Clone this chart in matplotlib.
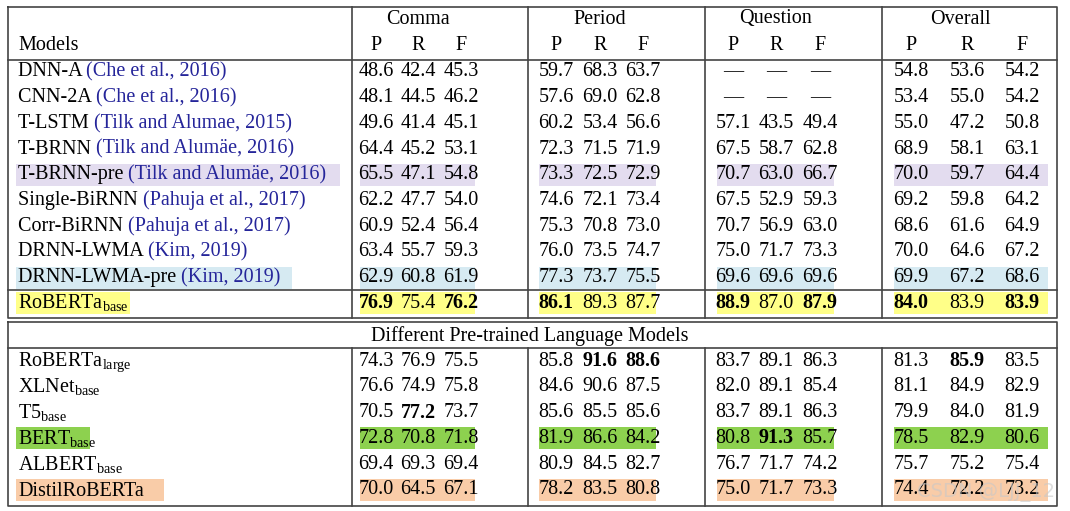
import matplotlib.pyplot as plt
from matplotlib.transforms import offset_copy

plt.rcParams['font.family'] = ['Liberation Serif', 'DejaVu Serif']
plt.rcParams['mathtext.fontset'] = 'custom'
plt.rcParams['mathtext.rm'] = 'Liberation Serif'
FS = 14.5

groups = ["Comma", "Period", "Question", "Overall"]
models_top = [("DNN-A ", "(Che et al., 2016)"), ("CNN-2A ", "(Che et al., 2016)"),
              ("T-LSTM ", "(Tilk and Alumae, 2015)"), ("T-BRNN ", "(Tilk and Alumäe, 2016)"),
              ("T-BRNN-pre ", "(Tilk and Alumäe, 2016)"), ("Single-BiRNN ", "(Pahuja et al., 2017)"),
              ("Corr-BiRNN ", "(Pahuja et al., 2017)"), ("DRNN-LWMA ", "(Kim, 2019)"),
              ("DRNN-LWMA-pre ", "(Kim, 2019)"), (r"RoBERTa$_\mathrm{base}$", "")]
vals_top = [
    [48.6, 42.4, 45.3, 59.7, 68.3, 63.7, None, None, None, 54.8, 53.6, 54.2],
    [48.1, 44.5, 46.2, 57.6, 69.0, 62.8, None, None, None, 53.4, 55.0, 54.2],
    [49.6, 41.4, 45.1, 60.2, 53.4, 56.6, 57.1, 43.5, 49.4, 55.0, 47.2, 50.8],
    [64.4, 45.2, 53.1, 72.3, 71.5, 71.9, 67.5, 58.7, 62.8, 68.9, 58.1, 63.1],
    [65.5, 47.1, 54.8, 73.3, 72.5, 72.9, 70.7, 63.0, 66.7, 70.0, 59.7, 64.4],
    [62.2, 47.7, 54.0, 74.6, 72.1, 73.4, 67.5, 52.9, 59.3, 69.2, 59.8, 64.2],
    [60.9, 52.4, 56.4, 75.3, 70.8, 73.0, 70.7, 56.9, 63.0, 68.6, 61.6, 64.9],
    [63.4, 55.7, 59.3, 76.0, 73.5, 74.7, 75.0, 71.7, 73.3, 70.0, 64.6, 67.2],
    [62.9, 60.8, 61.9, 77.3, 73.7, 75.5, 69.6, 69.6, 69.6, 69.9, 67.2, 68.6],
    [76.9, 75.4, 76.2, 86.1, 89.3, 87.7, 88.9, 87.0, 87.9, 84.0, 83.9, 83.9],
]
bold_top = {9: [0, 2, 3, 6, 8, 9, 11]}
models_bot = [r"RoBERTa$_\mathrm{large}$", r"XLNet$_\mathrm{base}$", r"T5$_\mathrm{base}$",
              r"BERT$_\mathrm{base}$", r"ALBERT$_\mathrm{base}$", "DistilRoBERTa"]
vals_bot = [
    [74.3, 76.9, 75.5, 85.8, 91.6, 88.6, 83.7, 89.1, 86.3, 81.3, 85.9, 83.5],
    [76.6, 74.9, 75.8, 84.6, 90.6, 87.5, 82.0, 89.1, 85.4, 81.1, 84.9, 82.9],
    [70.5, 77.2, 73.7, 85.6, 85.5, 85.6, 83.7, 89.1, 86.3, 79.9, 84.0, 81.9],
    [72.8, 70.8, 71.8, 81.9, 86.6, 84.2, 80.8, 91.3, 85.7, 78.5, 82.9, 80.6],
    [69.4, 69.3, 69.4, 80.9, 84.5, 82.7, 76.7, 71.7, 74.2, 75.7, 75.2, 75.4],
    [70.0, 64.5, 67.1, 78.2, 83.5, 80.8, 75.0, 71.7, 73.3, 74.4, 72.2, 73.2],
]
bold_bot = {0: [4, 5, 10], 2: [1], 3: [7]}

hl_top = {4: "#e3dcef", 8: "#d6eaf2", 9: "#ffff88"}
hl_bot = {3: "#8dd14f", 5: "#f9cca8"}
label_w = {4: 324, 8: 276, 9: 114}
label_wb = {3: 74, 5: 148}

fig = plt.figure(figsize=(10.7, 5.11), dpi=100)
ax = fig.add_axes([0, 0, 1, 1])
ax.set_xlim(0, 1070)
ax.set_ylim(511, 0)
ax.axis('off')

col_x = [376, 418, 461, 556, 600, 643, 733, 776, 820, 911, 967, 1022]
group_x = [418, 600, 776, 960]
vlines = [352, 528, 705, 882]
spans = [(360, 475), (539, 656), (717, 834), (894, 1048)]
L, R = 8, 1057
lc = "#444444"

ax.plot([L, R, R, L, L], [7, 7, 318, 318, 7], color=lc, lw=1.2)
ax.plot([L, R, R, L, L], [322, 322, 506, 506, 322], color=lc, lw=1.2)
ax.plot([L, R], [60, 60], color=lc, lw=1.2)
ax.plot([L, R], [290, 290], color=lc, lw=1.2)
ax.plot([L, R], [348, 348], color=lc, lw=1.2)
for x in vlines:
    ax.plot([x, x], [7, 318], color=lc, lw=1.2)
    ax.plot([x, x], [348, 506], color=lc, lw=1.2)

for g, gx in zip(groups, group_x):
    ax.text(gx, 19, g, ha='center', va='center', fontsize=FS)
for i, cx in enumerate(col_x):
    ax.text(cx, 45, "PRF"[i % 3], ha='center', va='center', fontsize=FS)
ax.text(18, 45, "Models", ha='left', va='center', fontsize=FS)

renderer = fig.canvas.get_renderer()


def draw_rows(models, vals, bolds, hls, lw, y0, step):
    for r, (m, v) in enumerate(zip(models, vals)):
        y = y0 + r * step
        if r in hls:
            ax.fill_between([16, 16 + lw[r]], y - 11, y + 11, color=hls[r], lw=0)
            for a, b in spans:
                ax.fill_between([a, b], y - 11, y + 11, color=hls[r], lw=0)
        if isinstance(m, tuple):
            t = ax.text(18, y, m[0], ha='left', va='center', fontsize=FS)
            w = t.get_window_extent(renderer).width
            ax.text(18, y, m[1], ha='left', va='center', fontsize=FS, color="#25259a",
                    transform=offset_copy(ax.transData, fig=fig, x=w, y=0, units='dots'))
        else:
            ax.text(18, y + 1, m, ha='left', va='center', fontsize=FS)
        for c, cx in enumerate(col_x):
            s = "—" if v[c] is None else f"{v[c]:.1f}"
            ax.text(cx, y, s, ha='center', va='center', fontsize=FS,
                    fontweight='bold' if c in bolds.get(r, []) else 'normal')


draw_rows(models_top, vals_top, bold_top, hl_top, label_w, 72, 25.7)
ax.text(530, 336, "Different Pre-trained Language Models", ha='center', va='center', fontsize=FS)
draw_rows(models_bot, vals_bot, bold_bot, hl_bot, label_wb, 361, 25.8)

ax.text(1055, 492, "CSDN @LJJ_12", ha='right', va='center', fontsize=14,
        color="#c8c8c8", family='DejaVu Sans', alpha=0.6)

fig.savefig("out.png", dpi=100, facecolor='white')
